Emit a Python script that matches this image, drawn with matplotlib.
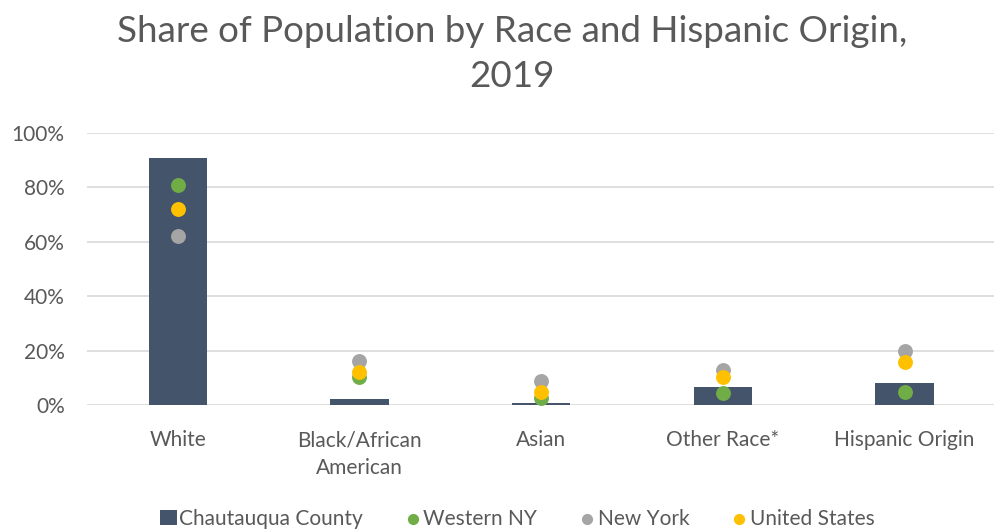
import numpy as np
import matplotlib.pyplot as plt
from matplotlib.ticker import PercentFormatter

# categorias e valores (fração da população)
categorias = ["White", "Black/African\nAmerican", "Asian", "Other Race*", "Hispanic Origin"]
chautauqua = [0.908, 0.021, 0.009, 0.065, 0.082]
western_ny = [0.809, 0.104, 0.025, 0.045, 0.049]
new_york = [0.622, 0.163, 0.089, 0.129, 0.200]
united_states = [0.720, 0.120, 0.047, 0.104, 0.157]

plt.rcParams['font.family'] = ['Lato', 'DejaVu Sans']
cor_texto = '#595959'

fig = plt.figure(figsize=(9.95, 5.29), dpi=100)
ax = fig.add_axes([0.0874, 0.2344, 0.913, 0.5142])

x = np.arange(len(categorias))
ax.bar(x, chautauqua, width=0.32, color='#44546A', label='Chautauqua County', zorder=2)
ax.scatter(x, western_ny, s=115, color='#70AD47', label='Western NY', zorder=3, linewidths=0)
ax.scatter(x, new_york, s=115, color='#A5A5A5', label='New York', zorder=3, linewidths=0)
ax.scatter(x, united_states, s=115, color='#FFC000', label='United States', zorder=4, linewidths=0)

ax.set_xlim(-0.5, len(categorias) - 0.5)
ax.set_ylim(0, 1.0)
ax.set_yticks(np.arange(0, 1.01, 0.2))
ax.yaxis.set_major_formatter(PercentFormatter(1.0, decimals=0))
ax.set_xticks(x)
ax.set_xticklabels(categorias, fontsize=15, color=cor_texto, linespacing=1.5)
ax.tick_params(axis='y', labelsize=15, labelcolor=cor_texto, length=0, pad=16)
ax.tick_params(axis='x', length=0, pad=18)
ax.grid(axis='y', color='#D9D9D9', linewidth=1.2, zorder=0)
for s in ax.spines.values():
    s.set_visible(False)

fig.suptitle("Share of Population by Race and Hispanic Origin,\n2019", fontsize=26.5,
             color=cor_texto, y=0.972, x=0.515, fontweight='normal', linespacing=1.45)

# legenda centrada embaixo
h, l = ax.get_legend_handles_labels()
ordem = [3, 0, 1, 2]
fig.legend([h[i] for i in ordem], [l[i] for i in ordem], loc='lower center',
           bbox_to_anchor=(0.52, -0.035), ncol=4, frameon=False, fontsize=15,
           labelcolor=cor_texto, handletextpad=0.1, columnspacing=2.0,
           handlelength=0.8, markerscale=0.75)

fig.savefig('out.png', dpi=100)
